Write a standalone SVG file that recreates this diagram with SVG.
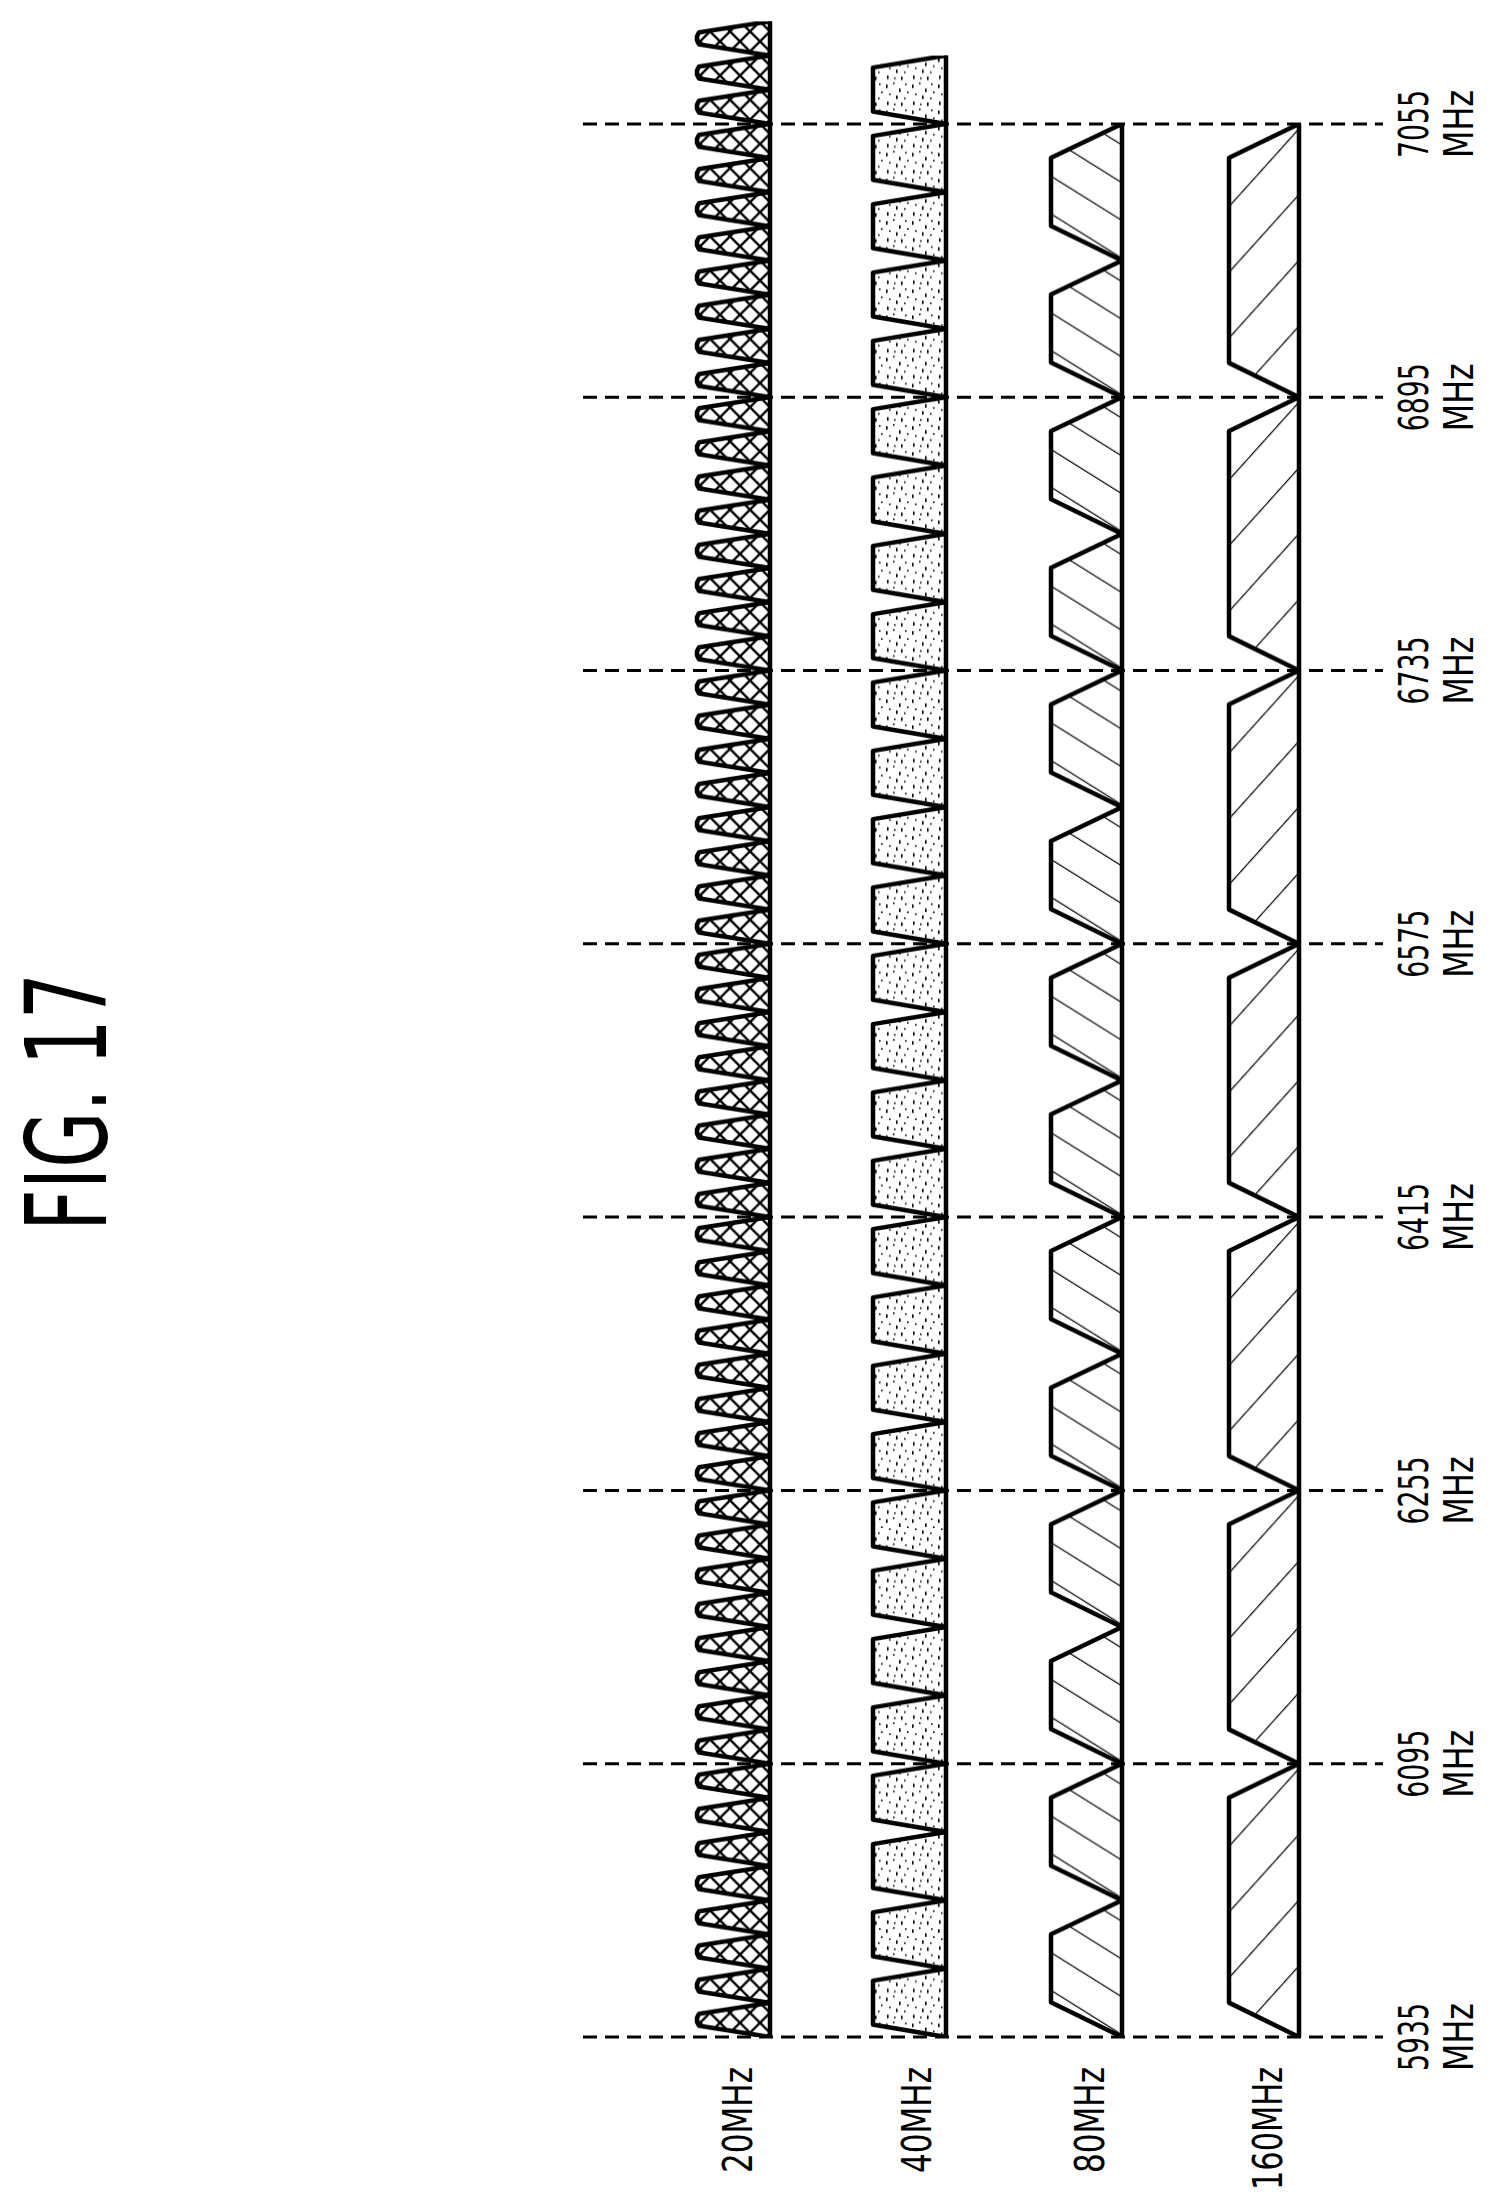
<svg xmlns="http://www.w3.org/2000/svg" xmlns:xlink="http://www.w3.org/1999/xlink" width="1500" height="2212" viewBox="0 0 1500 2212">
<style>
text{font-family:"DejaVu Sans","Liberation Sans",sans-serif;fill:#000;font-stretch:condensed}
.lab{font-size:40px}
.sh{stroke:#000;stroke-width:4.5;stroke-linejoin:round}
.base{stroke:#000;stroke-width:4}
.dash{stroke:#000;stroke-width:3;stroke-dasharray:14 8;fill:none}
.h{stroke:#000;stroke-width:2.4}
</style>
<defs>
<pattern id="xh" patternUnits="userSpaceOnUse" width="20" height="20">
<rect width="20" height="20" fill="#fff"/>
<path d="M0,0L20,20M20,0L0,20M-10,10L10,30M10,-10L30,10M30,10L10,30M10,-10L-10,10" class="h"/>
</pattern>
<pattern id="dots" patternUnits="userSpaceOnUse" width="26" height="26">
<rect width="26" height="26" fill="#fff"/>
<g fill="#000"><rect x="2" y="3" width="1.6" height="3.5"/><rect x="9" y="1" width="1.6" height="1.6"/><rect x="15" y="7" width="1.6" height="3.5"/><rect x="21" y="2" width="1.6" height="1.6"/><rect x="5" y="12" width="1.6" height="1.6"/><rect x="12" y="14" width="1.6" height="3.5"/><rect x="20" y="16" width="1.6" height="1.6"/><rect x="3" y="20" width="1.6" height="3.5"/><rect x="10" y="22" width="1.6" height="1.6"/><rect x="17" y="21" width="1.6" height="3.5"/><rect x="23" y="10" width="1.6" height="1.6"/></g>
</pattern>
<pattern id="hb" patternUnits="userSpaceOnUse" width="32" height="32" patternTransform="rotate(-58)">
<rect width="32" height="32" fill="#fff"/><line x1="0" y1="0" x2="0" y2="32" class="h"/>
</pattern>
<pattern id="hf" patternUnits="userSpaceOnUse" width="44" height="44" patternTransform="rotate(42)">
<rect width="44" height="44" fill="#fff"/><line x1="0" y1="0" x2="0" y2="44" class="h"/>
</pattern>
<pattern id="t20" patternUnits="userSpaceOnUse" x="0" y="2037" width="1500" height="34.1625">
<path d="M770,34.1625L699,23L697,19L697,15L699,11L770,0Z" fill="url(#xh)" class="sh"/>
</pattern>
<pattern id="t40" patternUnits="userSpaceOnUse" x="0" y="2037" width="1500" height="68.325">
<path d="M946,68.325L873,56L873,12L946,0Z" fill="url(#dots)" class="sh"/>
</pattern>
<pattern id="t80" patternUnits="userSpaceOnUse" x="0" y="2037" width="1500" height="136.65">
<path d="M1122,136.65L1051,102L1051,34L1122,0Z" fill="url(#hb)" class="sh"/>
</pattern>
<pattern id="t160" patternUnits="userSpaceOnUse" x="0" y="2037" width="1500" height="273.3">
<path d="M1299,273.3L1229,239L1229,34L1299,0Z" fill="url(#hf)" class="sh"/>
</pattern>
</defs>
<rect width="1500" height="2212" fill="#fff"/>
<g id="title"><text transform="translate(106,1102) rotate(-90)" text-anchor="middle" font-size="112" textLength="258" lengthAdjust="spacingAndGlyphs">FIG. 17</text></g>
<g id="row20"><rect x="690" y="21.4" width="85" height="2015.6" fill="url(#t20)"/><line class="base" x1="770" y1="21.4" x2="770" y2="2037"/>
<text class="lab" transform="translate(752,2067) rotate(-90)" text-anchor="end" textLength="106" lengthAdjust="spacingAndGlyphs">20MHz</text></g>
<g id="row40"><rect x="866" y="55.6" width="85" height="1981.4" fill="url(#t40)"/><line class="base" x1="946" y1="55.6" x2="946" y2="2037"/>
<text class="lab" transform="translate(931,2067) rotate(-90)" text-anchor="end" textLength="106" lengthAdjust="spacingAndGlyphs">40MHz</text></g>
<g id="row80"><rect x="1044" y="124" width="83" height="1913" fill="url(#t80)"/><line class="base" x1="1122" y1="124" x2="1122" y2="2037"/>
<text class="lab" transform="translate(1104,2067) rotate(-90)" text-anchor="end" textLength="106" lengthAdjust="spacingAndGlyphs">80MHz</text></g>
<g id="row160"><rect x="1222" y="124" width="82" height="1913" fill="url(#t160)"/><line class="base" x1="1299" y1="124" x2="1299" y2="2037"/>
<text class="lab" transform="translate(1282,2067) rotate(-90)" text-anchor="end" textLength="123" lengthAdjust="spacingAndGlyphs">160MHz</text></g>
<g id="connectors">
<line class="dash" x1="583" y1="2037" x2="1383" y2="2037"/>
<line class="dash" x1="583" y1="1763.7" x2="1383" y2="1763.7"/>
<line class="dash" x1="583" y1="1490.4" x2="1383" y2="1490.4"/>
<line class="dash" x1="583" y1="1217.1" x2="1383" y2="1217.1"/>
<line class="dash" x1="583" y1="943.8" x2="1383" y2="943.8"/>
<line class="dash" x1="583" y1="670.5" x2="1383" y2="670.5"/>
<line class="dash" x1="583" y1="397.2" x2="1383" y2="397.2"/>
<line class="dash" x1="583" y1="123.9" x2="1383" y2="123.9"/>
</g>
<g id="freq" class="lab" text-anchor="middle">
<text transform="translate(1428,2037) rotate(-90)" textLength="68" lengthAdjust="spacingAndGlyphs">5935</text><text transform="translate(1473,2037) rotate(-90)" textLength="68" lengthAdjust="spacingAndGlyphs">MHz</text>
<text transform="translate(1428,1763.7) rotate(-90)" textLength="68" lengthAdjust="spacingAndGlyphs">6095</text><text transform="translate(1473,1763.7) rotate(-90)" textLength="68" lengthAdjust="spacingAndGlyphs">MHz</text>
<text transform="translate(1428,1490.4) rotate(-90)" textLength="68" lengthAdjust="spacingAndGlyphs">6255</text><text transform="translate(1473,1490.4) rotate(-90)" textLength="68" lengthAdjust="spacingAndGlyphs">MHz</text>
<text transform="translate(1428,1217.1) rotate(-90)" textLength="68" lengthAdjust="spacingAndGlyphs">6415</text><text transform="translate(1473,1217.1) rotate(-90)" textLength="68" lengthAdjust="spacingAndGlyphs">MHz</text>
<text transform="translate(1428,943.8) rotate(-90)" textLength="68" lengthAdjust="spacingAndGlyphs">6575</text><text transform="translate(1473,943.8) rotate(-90)" textLength="68" lengthAdjust="spacingAndGlyphs">MHz</text>
<text transform="translate(1428,670.5) rotate(-90)" textLength="68" lengthAdjust="spacingAndGlyphs">6735</text><text transform="translate(1473,670.5) rotate(-90)" textLength="68" lengthAdjust="spacingAndGlyphs">MHz</text>
<text transform="translate(1428,397.2) rotate(-90)" textLength="68" lengthAdjust="spacingAndGlyphs">6895</text><text transform="translate(1473,397.2) rotate(-90)" textLength="68" lengthAdjust="spacingAndGlyphs">MHz</text>
<text transform="translate(1428,123.9) rotate(-90)" textLength="68" lengthAdjust="spacingAndGlyphs">7055</text><text transform="translate(1473,123.9) rotate(-90)" textLength="68" lengthAdjust="spacingAndGlyphs">MHz</text>
</g>
</svg>
